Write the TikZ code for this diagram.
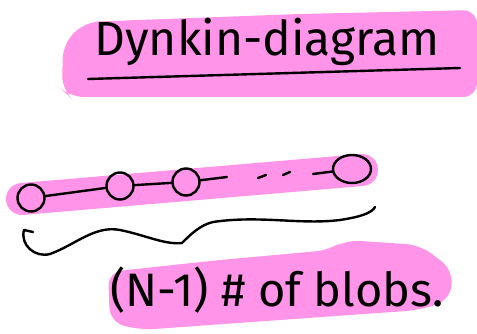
\documentclass[tikz,border=0pt]{standalone}
\usepackage{fontspec}
\setmainfont{Fira Sans}
\usetikzlibrary{shapes.geometric}
\definecolor{marker}{RGB}{255,148,232}
\begin{document}
\begin{tikzpicture}[x=1pt,y=-1pt,
  ink/.style={line width=2.4pt,line cap=round,line join=round},
  blob/.style={circle,draw,ink,minimum size=27pt,inner sep=0pt},
  hilite/.style={fill=marker,rounded corners=14pt},
  words/.style={inner sep=0pt,text=black}]
\useasboundingbox (0,0) rectangle (477,334);

% marker highlights
\fill[hilite] (85,22) -- (300,14) -- (477,10) -- (477,97) -- (70,97) -- (62,90) -- (63,44) -- cycle;
\draw[marker,line width=32pt,line cap=round] (22,199) -- (362,170);
\fill[hilite] (108,272) -- (220,260) -- (330,250) -- (345,240) -- (420,245) -- (453,270) -- (450,300) -- (420,310) -- (140,330) -- (110,322) -- cycle;

% heading
\node[words] (title) at (267,42) {\resizebox{345pt}{!}{Dynkin-diagram}};
\coordinate (ul0) at (88,79);
\coordinate (ul1) at (460,68);
\draw[ink] (ul0) -- (ul1);

% chain of blobs
\node[blob] (b1) at (31,198) {};
\node[blob] (b2) at (120,186) {};
\node[blob] (b3) at (186,182) {};
\node[ellipse,draw,ink,minimum width=38pt,minimum height=28pt,inner sep=0pt] (b4) at (352,169) {};
\coordinate (t1) at (227,177);
\coordinate (d1a) at (258,178);
\coordinate (d1b) at (266,175);
\coordinate (d2a) at (283,175);
\coordinate (d2b) at (290,172);
\coordinate (t4) at (313,174);
\draw[ink] (b1) -- (b2);
\draw[ink] (b2) -- (b3);
\draw[ink] (b3) -- (t1);
\draw[ink] (d1a) -- (d1b);
\draw[ink] (d2a) -- (d2b);
\draw[ink] (t4) -- (b4);

% brace under the chain
\coordinate (c0) at (33,232);
\coordinate (c1) at (24,230);
\coordinate (c9) at (375,207);
\draw[ink] (c0) -- (c1) .. controls (20,245) and (35,258) .. (50,254)
  .. controls (75,245) and (95,225) .. (120,230)
  .. controls (145,235) and (165,245) .. (182,243)
  .. controls (190,235) and (200,225) .. (213,222)
  .. controls (260,215) and (300,225) .. (340,220)
  .. controls (360,217) and (372,213) .. (c9);

% count label
\node[words] (count) at (277,290) {\resizebox{333pt}{!}{(N-1) \# of blobs.}};
\end{tikzpicture}
\end{document}
